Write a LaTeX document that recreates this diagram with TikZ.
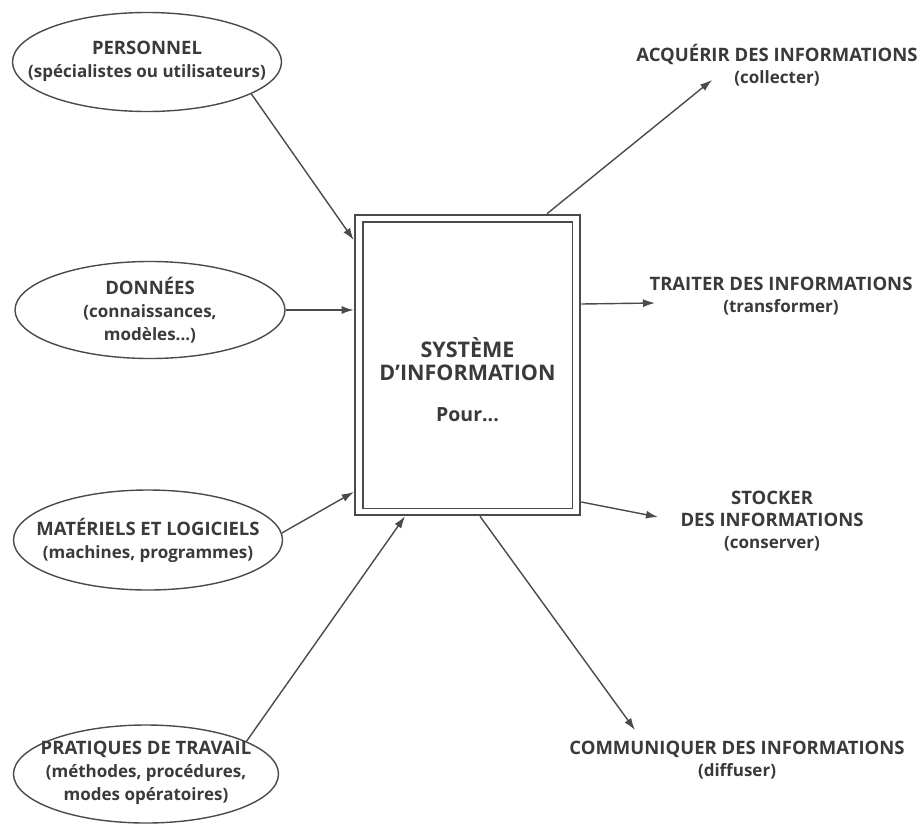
\documentclass[tikz,border=0pt]{standalone}
\usepackage{fontspec}
\setmainfont{Open Sans}
\usetikzlibrary{shapes.geometric,arrows.meta}
\definecolor{ink}{HTML}{3A3A3A}
\definecolor{linec}{HTML}{4A4A4A}
\newcommand\capA{\fontsize{18.5}{23}\selectfont}
\newcommand\lowA{\fontsize{17}{23}\selectfont}
\newcommand\capB{\fontsize{18.5}{22}\selectfont}
\newcommand\lowB{\fontsize{17}{22}\selectfont}
\begin{document}
\begin{tikzpicture}[x=1pt,y=-1pt,
  oval/.style={ellipse,draw=linec,line width=1.4pt,inner sep=0pt},
  lblA/.style={text=ink,align=center,inner sep=0pt,font=\bfseries\lowA},
  lblB/.style={text=ink,align=center,inner sep=0pt,font=\bfseries\lowB},
  conn/.style={draw=linec,line width=1.4pt,-{Latex[length=12pt,width=8pt]}}]
\useasboundingbox (0,0) rectangle (920,825);
% central box
\node[draw=linec,line width=2.6pt,minimum width=225pt,minimum height=300pt,inner sep=0pt] (sys) at (467.5,365) {};
\draw[linec,line width=1.6pt] ([xshift=9pt,yshift=-8pt]sys.north west) rectangle ([xshift=-9pt,yshift=8pt]sys.south east);
\node[lblA,font=\bfseries\fontsize{21.5}{23}\selectfont] (systxt) at (467.5,359) {SYSTÈME\\D'INFORMATION};
\node[lblA,font=\bfseries\fontsize{19.5}{23}\selectfont] (pour) at (467.5,415) {Pour...};
% left ovals
\node[oval,minimum width=269pt,minimum height=99pt] (pers) at (147,62) {};
\node[lblA] (perstxt) at (147,61) {\capA PERSONNEL\\(spécialistes ou utilisateurs)};
\node[oval,minimum width=270pt,minimum height=97pt] (don) at (150,310) {};
\node[lblA] (dontxt) at (150,310) {\capA DONNÉES\\(connaissances,\\modèles...)};
\node[oval,minimum width=269pt,minimum height=100pt] (mat) at (148,540) {};
\node[lblA] (mattxt) at (148,540) {\capA MATÉRIELS ET LOGICIELS\\(machines, programmes)};
\node[oval,minimum width=265pt,minimum height=98pt] (prat) at (146,774) {};
\node[lblA] (prattxt) at (146,773) {\capA PRATIQUES DE TRAVAIL\\(méthodes, procédures,\\modes opératoires)};
% right labels
\node[lblB] (acq) at (777,65) {\capB ACQUÉRIR DES INFORMATIONS\\(collecter)};
\node[lblB] (trait) at (781,296) {\capB TRAITER DES INFORMATIONS\\(transformer)};
\node[lblB] (stock) at (772,521) {\capB STOCKER\\\capB DES INFORMATIONS\\(conserver)};
\node[lblB] (comm) at (737,760) {\capB COMMUNIQUER DES INFORMATIONS\\(diffuser)};
\coordinate (acqtip) at (712,80);
\coordinate (traittip) at (655,303);
\coordinate (stocktip) at (658,517);
\coordinate (commtip) at (635,730);
% inputs
\draw[conn] (pers.-17) -- ([yshift=125pt]sys.west);
\draw[conn] (don.east) -- (don.east -| sys.west);
\draw[conn] (mat.3) -- ([yshift=-127pt]sys.west);
\draw[conn] (prat.18) -- ([xshift=-62.5pt]sys.south);
% outputs
\draw[conn] ([xshift=79.5pt]sys.north) -- (acqtip);
\draw[conn] ([yshift=61pt]sys.east) -- (traittip);
\draw[conn] ([yshift=-137pt]sys.east) -- (stocktip);
\draw[conn] ([xshift=12.5pt]sys.south) -- (commtip);
\end{tikzpicture}
\end{document}
